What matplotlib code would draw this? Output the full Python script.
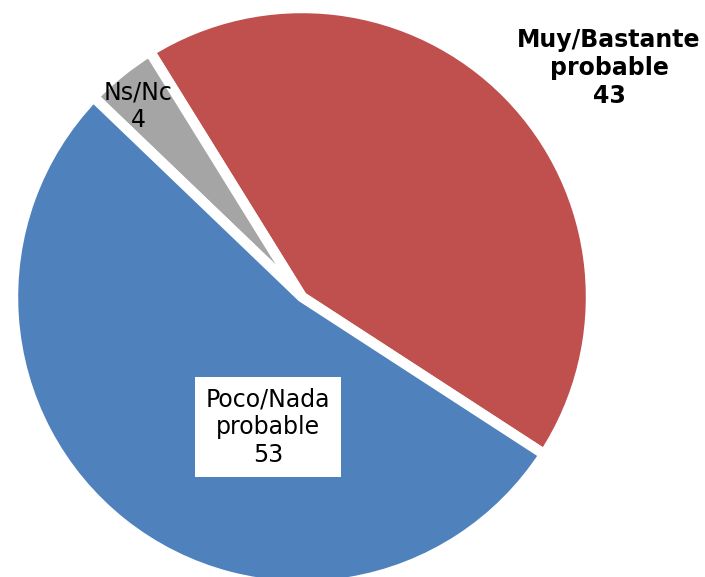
import matplotlib.pyplot as plt

labels = ["Muy/Bastante\nprobable", "Ns/Nc", "Poco/Nada\nprobable"]
values = [43, 4, 53]
colors = ["#C0504D", "#A5A5A5", "#4F81BD"]

W, H = 705, 577
cx, cy, r = 302, 297, 289

fig = plt.figure(figsize=(W / 100, H / 100), dpi=100)
ax = fig.add_axes([0, 0, 1, 1])

ax.pie(
    values,
    colors=colors,
    startangle=-33,
    counterclock=True,
    radius=1,
    wedgeprops=dict(edgecolor="white", linewidth=7.5),
)

ax.set_xlim(-cx / r, (W - cx) / r)
ax.set_ylim((cy - H) / r, cy / r)
ax.set_aspect("equal")
ax.axis("off")


def fxy(px, py):
    return px / W, 1 - py / H


ax.text(*fxy(609, 68), f"{labels[0]}\n{values[0]}", transform=fig.transFigure,
        ha="center", va="center", fontsize=17, fontweight="bold",
        linespacing=1.2, color="black")

ax.text(*fxy(138, 106), f"{labels[1]}\n{values[1]}", transform=fig.transFigure,
        ha="center", va="center", fontsize=17, linespacing=1.2, color="black")

ax.text(*fxy(268, 427), f"{labels[2]}\n{values[2]}", transform=fig.transFigure,
        ha="center", va="center", fontsize=17, linespacing=1.2, color="black",
        bbox=dict(boxstyle="square,pad=0.45", facecolor="white", edgecolor="none"))

fig.savefig("out.png", dpi=100)
